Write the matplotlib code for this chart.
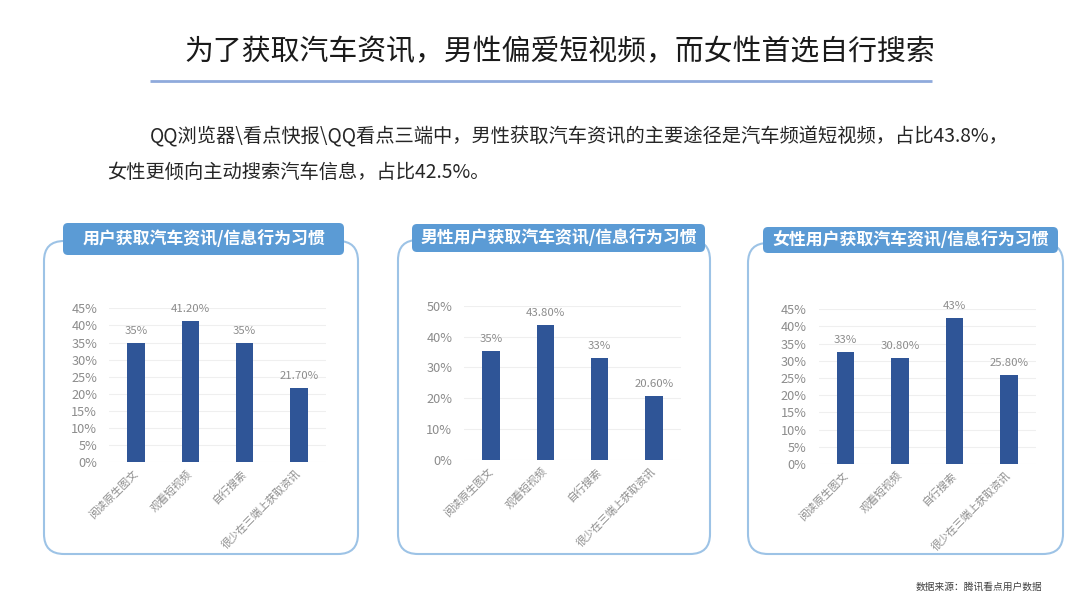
import matplotlib.pyplot as plt
from matplotlib.patches import FancyBboxPatch

plt.rcParams['font.family'] = ['Noto Sans CJK SC', 'DejaVu Sans']

# data
categories = ['阅读原生图文', '观看短视频', '自行搜索', '很少在三端上获取资讯']

all_values = [35.0, 41.2, 35.0, 21.7]
all_labels = ['35%', '41.20%', '35%', '21.70%']

male_values = [35.3, 43.8, 33.0, 20.6]
male_labels = ['35%', '43.80%', '33%', '20.60%']

female_values = [32.7, 30.8, 42.5, 25.8]
female_labels = ['33%', '30.80%', '43%', '25.80%']

panel_titles = ['用户获取汽车资讯/信息行为习惯',
                '男性用户获取汽车资讯/信息行为习惯',
                '女性用户获取汽车资讯/信息行为习惯']

title = '为了获取汽车资讯，男性偏爱短视频，而女性首选自行搜索'
line1 = 'QQ浏览器\\看点快报\\QQ看点三端中，男性获取汽车资讯的主要途径是汽车频道短视频，占比43.8%，'
line2 = '女性更倾向主动搜索汽车信息，占比42.5%。'
source = '数据来源：腾讯看点用户数据'

W, H = 1080, 599
fig = plt.figure(figsize=(10.8, 5.99), dpi=100)
fig.patch.set_facecolor('white')

# background layer in pixel coordinates
bg = fig.add_axes([0, 0, 1, 1])
bg.set_xlim(0, W)
bg.set_ylim(H, 0)
bg.axis('off')

bg.text(560, 52, title, fontsize=20.8, color='#1a1a1a', ha='center', va='center')
bg.plot([150, 932], [81, 81], color='#8FAADC', lw=2, solid_capstyle='butt')
bg.text(150, 137, line1, fontsize=13.9, color='#262626', ha='left', va='center')
bg.text(107, 172, line2, fontsize=13.9, color='#262626', ha='left', va='center')
bg.text(1042, 587, source, fontsize=7, color='#404040', ha='right', va='center')

# panel frames and title tabs: (box x0, x1, top, bottom), (tab x0, x1, top, bottom)
boxes = [(44, 358, 241, 554), (398, 710, 240, 554), (748, 1063, 243, 554)]
tabs = [(63, 344, 223, 255), (412, 705, 224, 252), (763, 1058, 227, 253)]

for (bx0, bx1, bt, bb), (tx0, tx1, tt, tb), name in zip(boxes, tabs, panel_titles):
    bg.add_patch(FancyBboxPatch((bx0, bt), bx1 - bx0, bb - bt,
                                boxstyle='round,pad=0,rounding_size=20',
                                fc='white', ec='#9DC3E6', lw=1.5))
    bg.add_patch(FancyBboxPatch((tx0, tt), tx1 - tx0, tb - tt,
                                boxstyle='round,pad=0,rounding_size=5',
                                fc='#5B9BD5', ec='none'))
    bg.text((tx0 + tx1) / 2, (tt + tb) / 2, name, fontsize=12.2, fontweight='bold',
            color='white', ha='center', va='center')


def px_axes(x0, x1, y_top, y_bottom):
    return fig.add_axes([x0 / W, 1 - y_bottom / H, (x1 - x0) / W, (y_bottom - y_top) / H])


def draw_panel(ax, values, labels, ymax, step):
    bars = ax.bar(range(len(values)), values, width=0.32, color='#2F5597', zorder=3)
    ax.bar_label(bars, labels=labels, padding=5, fontsize=8.2, color='#8C8C8C')
    ax.set_xlim(-0.5, len(values) - 0.5)
    ax.set_ylim(0, ymax)
    ticks = list(range(0, ymax + 1, step))
    ax.set_yticks(ticks)
    ax.set_yticklabels([f'{t}%' for t in ticks])
    ax.set_xticks(range(len(values)))
    ax.set_xticklabels(categories, rotation=45, ha='right', va='center',
                       rotation_mode='anchor')
    ax.tick_params(axis='y', length=0, pad=8.5, labelsize=9.2, labelcolor='#8C8C8C')
    ax.tick_params(axis='x', length=0, pad=7, labelsize=7.7, labelcolor='#8C8C8C')
    ax.grid(axis='y', color='#EFEFEF', lw=0.8, zorder=0)
    for s in ax.spines.values():
        s.set_visible(False)
    ax.patch.set_alpha(0)


ax1 = px_axes(109, 326, 308.3, 462.3)
draw_panel(ax1, all_values, all_labels, 45, 5)

ax2 = px_axes(464, 681, 305.7, 460)
draw_panel(ax2, male_values, male_labels, 50, 10)

ax3 = px_axes(818.5, 1036, 309.3, 464)
draw_panel(ax3, female_values, female_labels, 45, 5)

fig.savefig('out.png', dpi=100, facecolor='white')
